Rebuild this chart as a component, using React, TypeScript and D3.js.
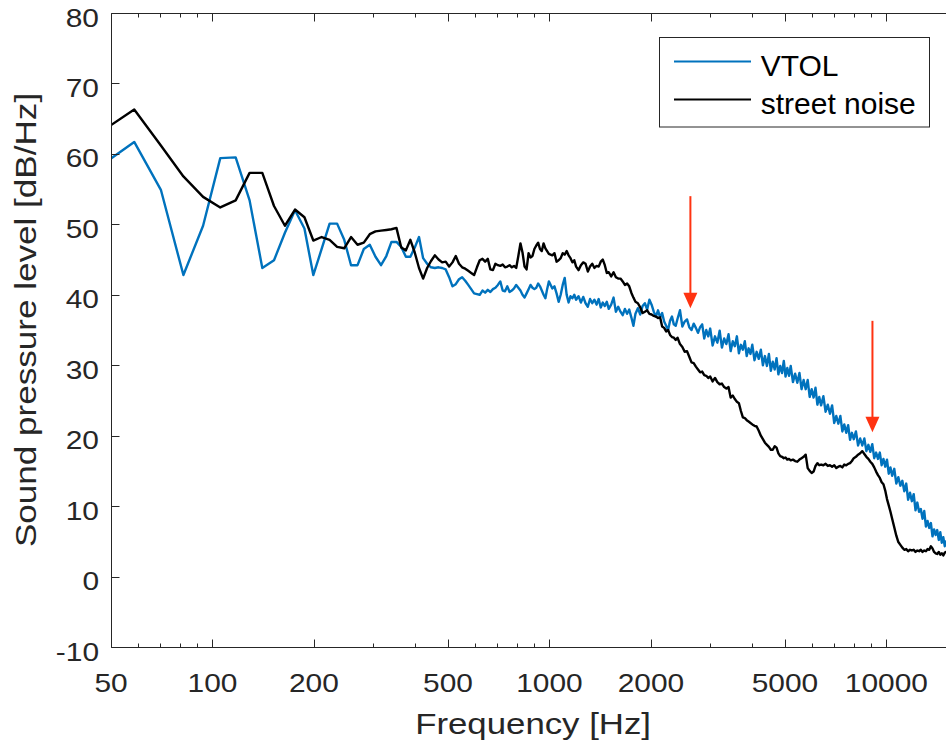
import React from 'react';
import * as d3 from 'd3';

// FFT bins below 1 kHz (Hz)
const lowBinHz = [
  46.9, 58.6, 70.3, 82.0, 93.8, 105.5, 117.2, 128.9, 140.6, 152.3,
  164.1, 175.8, 187.5, 199.2, 210.9, 222.7, 234.4, 246.1, 257.8, 269.5,
  281.3, 293.0, 304.7, 316.4, 328.1, 339.8, 351.6, 363.3, 375.0, 386.7,
  398.4, 410.2, 421.9, 433.6, 445.3, 457.0, 468.8, 480.5, 492.2, 503.9,
  515.6, 527.3, 539.1, 550.8, 562.5, 574.2, 585.9, 597.7, 609.4, 621.1,
  632.8, 644.5, 656.3, 668.0, 679.7, 691.4, 703.1, 714.8, 726.6, 738.3,
  750.0, 761.7, 773.4, 785.2, 796.9, 808.6, 820.3, 832.0, 843.8, 855.5,
  867.2, 878.9, 890.6, 902.3, 914.1, 925.8, 937.5, 949.2, 960.9, 972.7,
  984.4, 996.1,
];

// readings above 1 kHz (Hz)
const bandHz = [
  1020, 1035, 1050, 1065, 1080, 1095, 1110, 1125, 1140, 1155,
  1170, 1185, 1200, 1220, 1240, 1260, 1280, 1300, 1320, 1340,
  1360, 1380, 1400, 1420, 1440, 1460, 1480, 1500, 1525, 1550,
  1575, 1600, 1625, 1650, 1675, 1700, 1725, 1750, 1775, 1800,
  1830, 1860, 1890, 1920, 1950, 1980, 2010, 2040, 2070, 2100,
  2130, 2160, 2190, 2220, 2250, 2280, 2310, 2340, 2370, 2400,
  2440, 2480, 2520, 2560, 2600, 2640, 2680, 2720, 2760, 2800,
  2840, 2880, 2920, 2960, 3000, 3050, 3100, 3150, 3200, 3250,
  3300, 3350, 3400, 3450, 3500, 3550, 3600, 3650, 3700, 3750,
  3800, 3850, 3900, 3950, 4000, 4060, 4120, 4180, 4240, 4300,
  4360, 4420, 4480, 4540, 4600, 4660, 4720, 4780, 4840, 4900,
  4960, 5020, 5080, 5140, 5200, 5280, 5360, 5440, 5520, 5600,
  5680, 5760, 5840, 5920, 6000, 6080, 6160, 6240, 6320, 6400,
  6500, 6600, 6700, 6800, 6900, 7000, 7100, 7200, 7300, 7400,
  7500, 7600, 7700, 7800, 7900, 8000, 8120, 8240, 8360, 8480,
  8600, 8720, 8840, 8960, 9080, 9200, 9320, 9440, 9560, 9680,
  9800, 9920, 10040, 10160, 10280, 10400, 10550, 10700, 10850, 11000,
  11150, 11300, 11450, 11600, 11750, 11900, 12050, 12200, 12350, 12500,
  12650, 12800, 12950, 13100, 13250, 13400, 13550, 13700, 13850, 14000,
  14150, 14300, 14450, 14600, 14750, 14900, 15050, 15200,
];

const vtolLowDb = [
  58.4, 61.7, 54.9, 42.8, 49.8, 59.4, 59.5, 53.4, 43.8, 44.9,
  48.8, 52.0, 49.4, 42.8, 46.5, 50.1, 50.1, 47.8, 44.2, 44.2,
  46.5, 47.1, 45.4, 44.2, 45.5, 47.5, 47.5, 46.8, 45.4, 45.4,
  46.7, 48.2, 45.2, 44.4, 43.9, 43.8, 43.9, 43.8, 43.6, 42.5,
  41.2, 41.5, 42.2, 42.5, 42.0, 41.4, 40.8, 40.2, 40.1, 40.0,
  40.6, 40.3, 40.7, 40.4, 40.8, 41.0, 41.4, 41.9, 40.6, 40.5,
  41.2, 40.4, 40.6, 40.9, 41.4, 41.0, 40.6, 40.0, 39.6, 40.2,
  40.8, 41.4, 41.0, 40.8, 41.0, 41.6, 41.2, 40.6, 40.0, 39.5,
  40.8, 41.9,
];

const vtolBandDb = [
  40.9, 41.2, 40.2, 39.0, 40.0, 41.4, 42.4, 40.0, 38.9, 39.8,
  39.5, 40.0, 39.3, 39.8, 38.9, 39.7, 38.8, 38.3, 39.4, 38.8,
  39.3, 38.6, 39.4, 38.2, 38.9, 38.4, 39.0, 38.0, 38.6, 39.6,
  37.6, 38.3, 37.6, 37.1, 38.0, 37.3, 37.9, 36.8, 35.6, 37.3,
  38.1, 37.2, 38.4, 38.8, 37.9, 39.3, 38.6, 37.6, 36.9, 37.8,
  36.8, 37.4, 36.2, 35.6, 35.0, 36.3, 36.9, 35.8, 35.6, 36.6,
  37.8, 35.5, 36.2, 36.5, 35.4, 35.0, 35.9, 35.3, 34.6, 35.4,
  35.8, 33.8, 35.0, 34.1, 35.2, 32.8, 34.1, 33.2, 34.9, 32.5,
  33.8, 33.0, 34.4, 32.0, 33.4, 32.7, 34.1, 31.7, 32.9, 32.2,
  33.4, 31.3, 32.4, 31.6, 32.9, 30.7, 31.9, 30.9, 32.2, 30.0,
  31.3, 29.9, 31.6, 29.2, 30.5, 29.4, 31.0, 28.7, 29.9, 28.9,
  30.6, 28.4, 29.6, 28.5, 29.9, 27.6, 28.8, 27.5, 28.9, 26.6,
  27.9, 26.6, 27.9, 25.5, 26.6, 25.4, 26.8, 24.4, 25.5, 24.3,
  25.6, 23.4, 24.4, 23.1, 24.3, 21.8, 22.8, 21.7, 22.8, 20.6,
  21.6, 20.4, 21.5, 19.4, 20.4, 19.5, 20.6, 18.6, 19.6, 18.6,
  19.6, 17.8, 18.7, 17.7, 18.8, 16.8, 17.6, 16.7, 17.6, 15.8,
  16.7, 15.6, 16.6, 14.6, 15.5, 14.3, 15.3, 13.2, 14.1, 12.9,
  13.6, 12.1, 13.2, 10.9, 11.9, 10.7, 11.7, 9.4, 10.5, 9.2,
  9.6, 8.2, 9.3, 7.1, 7.9, 6.9, 7.6, 5.7, 6.7, 5.9,
  6.6, 5.2, 6.3, 4.8, 5.6, 4.3, 5.0, 4.5,
];

const streetLowDb = [
  63.2, 66.3, 61.2, 56.8, 53.9, 52.4, 53.4, 57.3, 57.3, 52.6,
  49.8, 52.1, 51.0, 47.7, 48.2, 47.8, 46.8, 46.6, 48.2, 47.1,
  47.4, 48.6, 49.0, 49.1, 49.2, 49.3, 49.5, 46.7, 46.3, 47.8,
  46.0, 43.8, 42.3, 43.8, 44.8, 45.6, 45.0, 44.6, 44.7, 44.0,
  44.6, 45.5, 44.4, 43.9, 43.7, 43.4, 43.1, 42.8, 43.9, 44.9,
  45.1, 44.7, 45.1, 43.6, 43.5, 44.4, 44.2, 44.1, 44.3, 43.9,
  44.0, 44.2, 43.9, 44.1, 43.8, 45.5, 47.3, 46.0, 44.0, 43.6,
  45.9, 45.3, 45.5, 46.5, 47.0, 47.4, 46.5, 46.2, 47.3, 46.6,
  46.2, 45.8,
];

const streetBandDb = [
  45.6, 45.9, 44.7, 44.9, 45.2, 45.9, 45.7, 46.2, 45.6, 45.2,
  44.6, 44.9, 44.0, 43.5, 44.2, 44.6, 44.4, 43.3, 44.0, 44.4,
  43.8, 44.1, 44.0, 44.7, 45.0, 44.2, 43.1, 43.2, 42.6, 43.2,
  42.5, 42.3, 42.3, 41.9, 41.4, 41.6, 41.2, 40.3, 39.6, 39.0,
  38.8, 38.2, 37.4, 37.6, 37.8, 37.3, 37.2, 37.0, 36.9, 36.7,
  36.8, 35.5, 35.3, 34.8, 35.0, 34.3, 34.0, 33.9, 33.6, 33.9,
  33.0, 32.6, 31.9, 32.0, 31.2, 30.4, 30.3, 29.8, 29.4, 29.0,
  29.1, 28.6, 28.5, 28.2, 28.4, 27.7, 28.2, 27.6, 27.3, 27.4,
  26.9, 26.7, 26.9, 25.4, 25.7, 25.2, 24.8, 24.6, 23.5, 22.6,
  22.5, 22.2, 22.0, 21.8, 21.6, 21.4, 21.3, 20.7, 20.0, 19.5,
  19.0, 18.7, 18.4, 18.0, 18.0, 18.5, 18.3, 17.5, 17.1, 17.0,
  16.8, 16.9, 16.6, 16.7, 16.5, 16.6, 16.4, 16.3, 16.6, 16.8,
  17.0, 17.3, 15.4, 15.0, 14.7, 14.9, 15.7, 16.1, 15.8, 15.9,
  15.8, 16.0, 15.7, 15.8, 15.6, 15.8, 15.4, 15.6, 15.7, 15.5,
  15.9, 15.8, 16.0, 16.1, 16.4, 16.8, 17.0, 17.3, 17.5, 17.8,
  17.4, 17.0, 16.7, 16.3, 16.0, 15.5, 14.9, 14.4, 14.0, 13.4,
  13.1, 12.2, 11.0, 10.1, 9.2, 8.2, 7.0, 5.8, 4.9, 4.5,
  4.1, 3.8, 3.9, 3.6, 3.8, 3.7, 3.8, 3.5, 3.7, 3.6,
  3.8, 3.5, 3.7, 3.6, 3.9, 3.8, 4.3, 4.0, 3.5, 3.3,
  3.2, 3.5, 3.1, 3.3, 3.0, 3.4, 3.5, 3.3,
];

const seriesNames = ['VTOL', 'street noise'];
const seriesColors = ['#0072BD', '#000000'];

const xLabeledTicks = [50, 100, 200, 500, 1000, 2000, 5000, 10000];
const xMinorTicks = [60, 70, 80, 90, 300, 400, 600, 700, 800, 900, 3000, 4000, 6000, 7000, 8000, 9000];
const yTicks = [-10, 0, 10, 20, 30, 40, 50, 60, 70, 80];

// annotation arrows: frequency, start level, tip level (dB/Hz)
const arrowHz = [2620, 9090];
const arrowFromDb = [54.0, 36.3];
const arrowToDb = [38.1, 20.5];

const FONT = "'Liberation Sans', Arial, Helvetica, sans-serif";
const AXIS = '#262626';

export default function App() {
  const x = d3.scaleLog().domain([50, 16000]).range([111, 955.2]);
  const y = d3.scaleLinear().domain([-10, 80]).range([647, 13]);
  const [x0, x1] = x.range();
  const [yb, yt] = y.range();

  const freqHz = [...lowBinHz, ...bandHz];
  const series = [
    [...vtolLowDb, ...vtolBandDb],
    [...streetLowDb, ...streetBandDb],
  ];

  const line = d3
    .line<number>()
    .x((_, i) => x(freqHz[i]))
    .y((d) => y(d));

  const c = (v: number) => Math.round(v) + 0.5;

  return (
    <svg
      width={946}
      height={742}
      style={{ position: 'absolute', left: 0, top: 0, background: '#fff' }}
      fontFamily={FONT}
    >
      <defs>
        <clipPath id="plotClip">
          <rect x={x0} y={yt} width={x1 - x0} height={yb - yt} />
        </clipPath>
      </defs>
      <rect x={0} y={0} width={946} height={742} fill="#fff" />

      {/* data */}
      <g clipPath="url(#plotClip)" fill="none" strokeLinejoin="round">
        {series.map((s, i) => (
          <path key={i} d={line(s) || ''} stroke={seriesColors[i]} strokeWidth={i === 0 ? 2.4 : 2.4} />
        ))}
      </g>

      {/* axes box */}
      <g stroke={AXIS} strokeWidth={1} fill="none">
        <line x1={c(x0)} x2={x1} y1={c(yb)} y2={c(yb)} />
        <line x1={c(x0)} x2={x1} y1={c(yt)} y2={c(yt)} />
        <line x1={c(x0)} x2={c(x0)} y1={c(yt)} y2={c(yb)} />
        <line x1={c(x1)} x2={c(x1)} y1={c(yt)} y2={c(yb)} />
        {xLabeledTicks.map((t) => (
          <g key={'xm' + t}>
            <line x1={c(x(t))} x2={c(x(t))} y1={c(yb)} y2={c(yb) - 8} />
            <line x1={c(x(t))} x2={c(x(t))} y1={c(yt)} y2={c(yt) + 8} />
          </g>
        ))}
        {xMinorTicks.map((t) => (
          <g key={'xn' + t}>
            <line x1={c(x(t))} x2={c(x(t))} y1={c(yb)} y2={c(yb) - 4} />
            <line x1={c(x(t))} x2={c(x(t))} y1={c(yt)} y2={c(yt) + 4} />
          </g>
        ))}
        {yTicks.map((t) => (
          <g key={'y' + t}>
            <line x1={c(x0)} x2={c(x0) + 8} y1={c(y(t))} y2={c(y(t))} />
            <line x1={c(x1)} x2={c(x1) - 8} y1={c(y(t))} y2={c(y(t))} />
          </g>
        ))}
      </g>

      {/* tick labels */}
      <g fill={AXIS} fontSize={26}>
        {xLabeledTicks.map((t) => (
          <text key={'xl' + t} textAnchor="middle" transform={`translate(${x(t)},692) scale(1.15,1)`}>
            {t}
          </text>
        ))}
        {yTicks.map((t) => (
          <text key={'yl' + t} textAnchor="end" transform={`translate(99,${y(t) + 13.5}) scale(1.15,1)`}>
            {t}
          </text>
        ))}
      </g>

      {/* axis titles */}
      <g fill={AXIS} fontSize={30}>
        <text textAnchor="middle" transform={`translate(${(x0 + x1) / 2},734) scale(1.16,1)`}>
          Frequency [Hz]
        </text>
        <text textAnchor="middle" transform={`translate(36,320) rotate(-90) scale(1.17,1)`}>
          Sound pressure level [dB/Hz]
        </text>
      </g>

      {/* arrows */}
      <g>
        {arrowHz.map((hz, i) => {
          const ax = x(hz);
          const tip = y(arrowToDb[i]);
          const base = tip - 15.5;
          return (
            <g key={'a' + i}>
              <line x1={ax} x2={ax} y1={y(arrowFromDb[i])} y2={base + 1} stroke="#ff3311" strokeWidth={2} />
              <polygon points={`${ax - 7},${base} ${ax + 7},${base} ${ax},${tip}`} fill="#ff3311" />
            </g>
          );
        })}
      </g>

      {/* legend */}
      <g>
        <rect x={659.5} y={37.5} width={270} height={89.5} fill="#fff" stroke={AXIS} strokeWidth={1} />
        {seriesNames.map((n, i) => (
          <g key={n}>
            <line x1={674} x2={751} y1={61.5 + i * 38} y2={61.5 + i * 38} stroke={seriesColors[i]} strokeWidth={2.2} />
            <text x={760.7} y={76 + i * 38} fontSize={30} fill="#000">
              {n}
            </text>
          </g>
        ))}
      </g>
    </svg>
  );
}
